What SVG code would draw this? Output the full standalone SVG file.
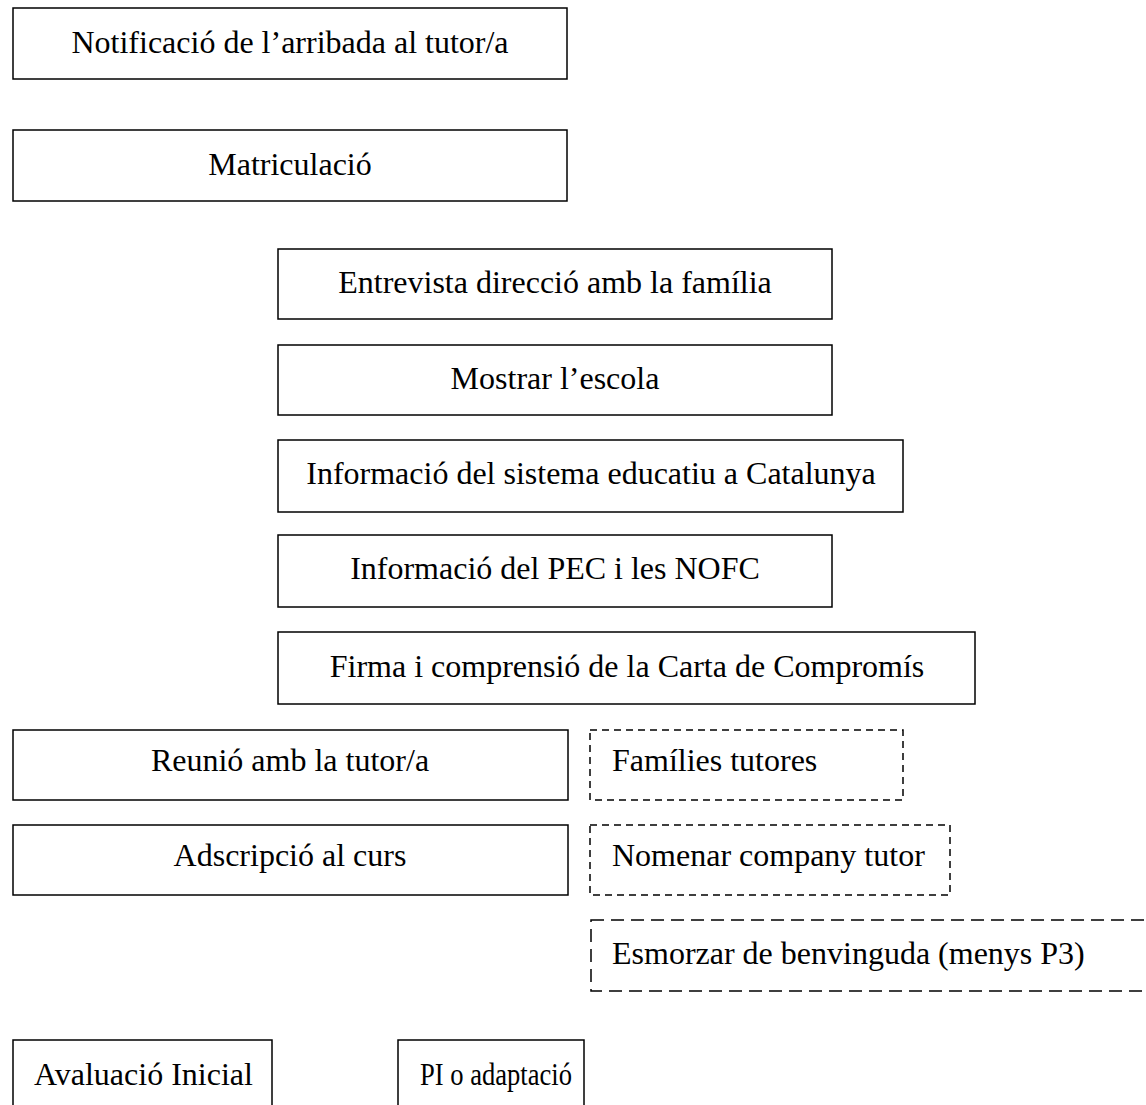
<svg xmlns="http://www.w3.org/2000/svg" width="1146" height="1105" viewBox="0 0 1146 1105">
<style>
rect{fill:#fff;stroke:#000;stroke-width:1.5}
.d{stroke-dasharray:7 5}
.d2{stroke-dasharray:13 7}
text{font-family:"Liberation Serif","Times New Roman",serif;font-size:32px;fill:#000}
.c{text-anchor:middle}
</style>
<rect x="0" y="0" width="1146" height="1105" style="stroke:none"/>
<g id="connectors"></g>
<g id="n1"><rect x="13" y="8" width="554" height="71"/><text class="c" x="290" y="53">Notificació de l’arribada al tutor/a</text></g>
<g id="n2"><rect x="13" y="130" width="554" height="71"/><text class="c" x="290" y="175">Matriculació</text></g>
<g id="n3"><rect x="278" y="249" width="554" height="70"/><text class="c" x="555" y="293">Entrevista direcció amb la família</text></g>
<g id="n4"><rect x="278" y="345" width="554" height="70"/><text class="c" x="555" y="389">Mostrar l’escola</text></g>
<g id="n5"><rect x="278" y="440" width="625" height="72"/><text class="c" x="591" y="484">Informació del sistema educatiu a Catalunya</text></g>
<g id="n6"><rect x="278" y="535" width="554" height="72"/><text class="c" x="555" y="579">Informació del PEC i les NOFC</text></g>
<g id="n7"><rect x="278" y="632" width="697" height="72"/><text class="c" x="627" y="677">Firma i comprensió de la Carta de Compromís</text></g>
<g id="n8"><rect x="13" y="730" width="555" height="70"/><text class="c" x="290" y="771">Reunió amb la tutor/a</text></g>
<g id="n9"><rect class="d" x="590" y="730" width="313" height="70"/><text x="612" y="771">Famílies tutores</text></g>
<g id="n10"><rect x="13" y="825" width="555" height="70"/><text class="c" x="290" y="866">Adscripció al curs</text></g>
<g id="n11"><rect class="d" x="590" y="825" width="360" height="70"/><text x="612" y="866">Nomenar company tutor</text></g>
<g id="n12"><rect class="d2" x="591" y="920" width="570" height="71"/><text x="612" y="964">Esmorzar de benvinguda (menys P3)</text></g>
<g id="n13"><rect x="13" y="1040" width="259" height="80"/><text x="34" y="1085">Avaluació Inicial</text></g>
<g id="n14"><rect x="398" y="1040" width="186" height="80"/><text x="420" y="1085" textLength="152" lengthAdjust="spacingAndGlyphs">PI o adaptació</text></g>
</svg>
